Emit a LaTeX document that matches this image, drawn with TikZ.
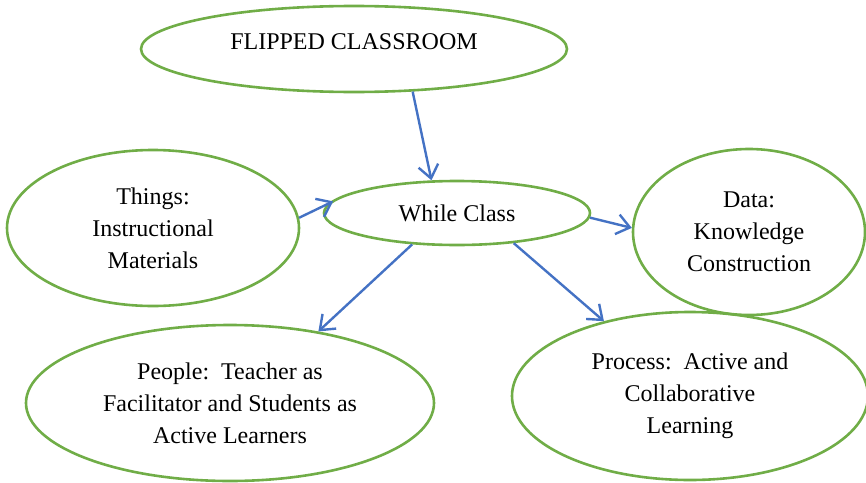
\documentclass[tikz,border=0pt]{standalone}
\usepackage{fontspec}
\setmainfont{Liberation Serif}
\usepackage{xcolor}
\definecolor{leafgreen}{HTML}{70AD47}
\definecolor{linkblue}{HTML}{4472C4}
\usetikzlibrary{shapes.geometric,arrows.meta,positioning}

\begin{document}
\begin{tikzpicture}[x=0.5pt, y=-0.5pt,
        bubble/.style={ellipse, draw=leafgreen, line width=1.3pt, align=center,
            inner sep=0pt, font=\fontsize{12}{16}\selectfont},
        link/.style={draw=linkblue, line width=1.2pt, -{Straight Barb[length=6.5pt,width=10pt]}}]
        \useasboundingbox (0,0) rectangle (866,482);

        % Centre of the map
        \node[bubble, minimum width=133pt, minimum height=32pt] (while) at (457,213) {While Class};
        \node[bubble, minimum width=213pt, minimum height=43pt, text depth=7pt] (flipped) at (354,49) {FLIPPED CLASSROOM};

        % Four elements round it
        \node[bubble, minimum width=146pt, minimum height=78pt] (things) at (153,228) {Things:\\Instructional\\Materials};
        \node[bubble, minimum width=116pt, minimum height=83pt] (data) at (749,232) {Data:\\Knowledge\\Construction};
        \node[bubble, minimum width=204pt, minimum height=78pt] (people) at (230,403) {People:\ \ Teacher as\\Facilitator and Students as\\Active Learners};
        \node[bubble, minimum width=178pt, minimum height=84pt] (process) at (690,396) {Process:\ \ Active and\\Collaborative\\Learning};

        % Links
        \draw[link] (flipped.-36) -- (while.128);
        \draw[link, shorten >=-3pt] (things.4) -- (while.176);
        \draw[link] (while.-2) -- (data.178);
        \draw[link] (while.-145) -- (people.39);
        \draw[link] (while.-28) -- (process.139);
    \end{tikzpicture}
\end{document}
